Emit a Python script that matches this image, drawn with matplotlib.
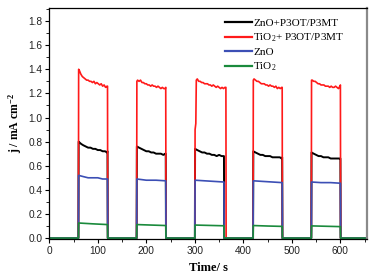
import matplotlib
matplotlib.use("Agg")
import matplotlib.pyplot as plt
from matplotlib.ticker import MultipleLocator

plt.rcParams['mathtext.fontset'] = 'custom'
plt.rcParams['mathtext.rm'] = 'Liberation Serif'
plt.rcParams['mathtext.it'] = 'Liberation Serif:italic'
plt.rcParams['mathtext.bf'] = 'Liberation Serif:bold'

# ---- data (time in s, current density in mA cm^-2) ----
red_t = [0, 60, 60.5, 62, 65, 68, 71, 74, 77, 80, 83, 86, 89, 92, 95, 98, 101, 104, 107, 110, 113, 116, 119, 120, 120.5,
         180, 180.5, 182, 185, 188, 191, 194, 197, 200, 203, 206, 209, 212, 215, 218, 221, 224, 227, 230, 233, 236, 239, 240, 240.5,
         300, 300.5, 302, 303, 305, 308, 311, 314, 317, 320, 323, 326, 329, 332, 335, 338, 341, 344, 347, 350, 353, 356, 359, 362, 364, 364.5,
         420, 420.5, 422, 425, 428, 431, 434, 437, 440, 443, 446, 449, 452, 455, 458, 461, 464, 467, 470, 473, 476, 479, 480, 480.5,
         540, 540.5, 542, 545, 548, 551, 554, 557, 560, 563, 566, 569, 572, 575, 578, 581, 584, 587, 590, 593, 596, 599, 600, 600.5, 660]
red_j = [0, 0, 1.40, 1.39, 1.36, 1.34, 1.33, 1.32, 1.31, 1.31, 1.30, 1.30, 1.29, 1.30, 1.28, 1.29, 1.28, 1.27, 1.28, 1.26, 1.27, 1.25, 1.26, 1.26, 0,
         0, 1.30, 1.31, 1.30, 1.31, 1.29, 1.29, 1.28, 1.28, 1.27, 1.27, 1.26, 1.27, 1.26, 1.26, 1.25, 1.26, 1.25, 1.24, 1.25, 1.24, 1.24, 1.25, 0,
         0, 0.90, 0.95, 1.31, 1.32, 1.30, 1.30, 1.29, 1.29, 1.28, 1.28, 1.28, 1.27, 1.27, 1.26, 1.27, 1.26, 1.25, 1.26, 1.25, 1.24, 1.25, 1.24, 1.25, 1.25, 0,
         0, 1.31, 1.32, 1.31, 1.30, 1.30, 1.29, 1.28, 1.28, 1.28, 1.27, 1.27, 1.26, 1.27, 1.26, 1.26, 1.25, 1.26, 1.24, 1.25, 1.24, 1.25, 1.25, 0,
         0, 1.31, 1.31, 1.30, 1.30, 1.29, 1.28, 1.28, 1.27, 1.27, 1.27, 1.26, 1.26, 1.26, 1.25, 1.26, 1.25, 1.25, 1.26, 1.25, 1.24, 1.26, 1.27, 0, 0]

black_t = [0, 60, 60.5, 63, 66, 70, 75, 80, 85, 90, 95, 100, 105, 110, 115, 119, 120, 120.5,
           180, 180.5, 185, 190, 195, 200, 205, 210, 215, 220, 225, 230, 235, 239, 240, 240.5,
           300, 300.5, 305, 310, 315, 320, 325, 330, 335, 340, 345, 350, 355, 359, 360, 360.5,
           420, 420.5, 425, 430, 435, 440, 445, 450, 455, 460, 465, 470, 475, 479, 480, 480.5,
           540, 540.5, 545, 550, 555, 560, 565, 570, 575, 580, 585, 590, 595, 599, 600, 600.5, 660]
black_j = [0, 0, 0.80, 0.79, 0.78, 0.77, 0.76, 0.75, 0.75, 0.74, 0.74, 0.73, 0.73, 0.72, 0.72, 0.71, 0.72, 0,
           0, 0.76, 0.75, 0.74, 0.73, 0.72, 0.72, 0.71, 0.71, 0.70, 0.70, 0.70, 0.69, 0.70, 0.70, 0,
           0, 0.74, 0.73, 0.72, 0.71, 0.71, 0.70, 0.70, 0.69, 0.69, 0.68, 0.69, 0.68, 0.68, 0.68, 0,
           0, 0.72, 0.71, 0.70, 0.69, 0.69, 0.68, 0.68, 0.68, 0.67, 0.67, 0.67, 0.67, 0.66, 0.67, 0,
           0, 0.71, 0.70, 0.69, 0.68, 0.68, 0.67, 0.67, 0.67, 0.66, 0.66, 0.66, 0.66, 0.66, 0.66, 0, 0]

blue_t = [0, 60, 60.5, 70, 80, 90, 100, 110, 120, 120.5,
          180, 180.5, 200, 220, 240, 240.5,
          300, 300.5, 320, 340, 360, 360.5,
          420, 420.5, 440, 460, 480, 480.5,
          540, 540.5, 560, 580, 600, 600.5, 660]
blue_j = [0, 0, 0.52, 0.51, 0.50, 0.50, 0.50, 0.49, 0.49, 0,
          0, 0.49, 0.48, 0.48, 0.475, 0,
          0, 0.48, 0.475, 0.47, 0.465, 0,
          0, 0.475, 0.47, 0.465, 0.46, 0,
          0, 0.465, 0.46, 0.46, 0.455, 0, 0]

green_t = [0, 60, 60.5, 90, 120, 120.5,
           180, 180.5, 210, 240, 240.5,
           300, 300.5, 330, 360, 360.5,
           420, 420.5, 450, 480, 480.5,
           540, 540.5, 570, 600, 600.5, 660]
green_j = [0, 0, 0.125, 0.118, 0.112, 0,
           0, 0.112, 0.108, 0.104, 0,
           0, 0.108, 0.105, 0.102, 0,
           0, 0.104, 0.100, 0.097, 0,
           0, 0.101, 0.098, 0.095, 0, 0]

labels = ['ZnO+P3OT/P3MT', r'TiO$_2$+ P3OT/P3MT', 'ZnO', r'TiO$_2$']
colors = ['#000000', '#ff1a1a', '#3c4fb5', '#1a8a3c']

fig = plt.figure(figsize=(3.72, 2.80), dpi=100)
ax = fig.add_axes([0.1325, 0.148, 0.853, 0.822])

ax.plot(black_t, black_j, color=colors[0], lw=1.4, label=labels[0])
ax.plot(red_t, red_j, color=colors[1], lw=1.2, label=labels[1])
ax.plot(blue_t, blue_j, color=colors[2], lw=1.2, label=labels[2])
ax.plot(green_t, green_j, color=colors[3], lw=1.2, label=labels[3])

ax.set_xlim(0, 654)
ax.set_ylim(-0.004, 1.905)
ax.xaxis.set_major_locator(MultipleLocator(100))
ax.xaxis.set_minor_locator(MultipleLocator(50))
ax.yaxis.set_major_locator(MultipleLocator(0.2))
ax.yaxis.set_minor_locator(MultipleLocator(0.1))
ax.yaxis.set_major_formatter(matplotlib.ticker.FormatStrFormatter('%.1f'))
ax.tick_params(which='major', direction='out', length=3, width=0.8, labelsize=7.3, pad=2,
               labelcolor='#222222')
ax.tick_params(which='minor', direction='out', length=2, width=0.6)
for lab in ax.get_xticklabels() + ax.get_yticklabels():
    lab.set_family('Liberation Sans')
for s in ['left', 'bottom', 'top']:
    ax.spines[s].set_linewidth(0.9)
ax.spines['right'].set_color('#8a8a8a')
ax.spines['right'].set_linewidth(1.6)

ax.set_xlabel('Time/ s', family='Liberation Serif', fontweight='bold', fontsize=9, labelpad=5)
ax.set_ylabel(r'j / mA cm$^{\mathbf{-2}}$', family='Liberation Serif', fontweight='bold', fontsize=8.5, labelpad=3)

leg = ax.legend(loc='upper left', bbox_to_anchor=(0.54, 0.975), frameon=False,
                prop={'family': 'Liberation Serif', 'size': 8},
                handlelength=2.4, handletextpad=0.15, labelspacing=0.3, borderaxespad=0)
for h in leg.get_lines():
    h.set_linewidth(1.6)

fig.savefig('out.png', dpi=100)
